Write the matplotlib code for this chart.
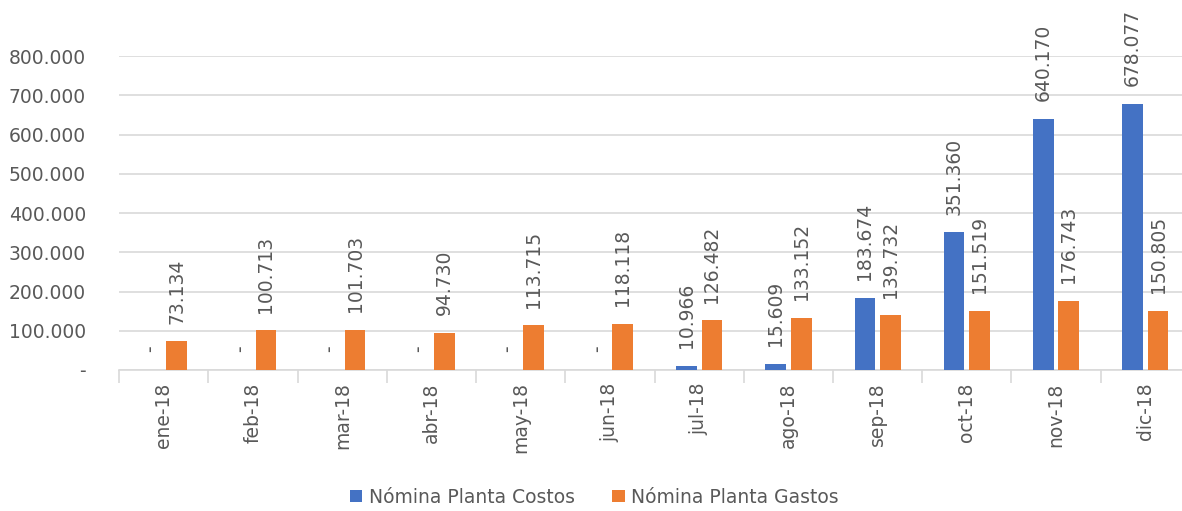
import numpy as np
import matplotlib.pyplot as plt

months = ["ene-18", "feb-18", "mar-18", "abr-18", "may-18", "jun-18",
          "jul-18", "ago-18", "sep-18", "oct-18", "nov-18", "dic-18"]
costos = [0, 0, 0, 0, 0, 0, 10966, 15609, 183674, 351360, 640170, 678077]
gastos = [73134, 100713, 101703, 94730, 113715, 118118,
          126482, 133152, 139732, 151519, 176743, 150805]

blue = "#4472C4"
orange = "#ED7D31"
grey = "#595959"
light = "#D9D9D9"


def fmt(v):
    if v == 0:
        return "-"
    return f"{v:,.0f}".replace(",", ".")


fig = plt.figure(figsize=(11.82, 5.11), dpi=100)
# plot area runs slightly past the right edge, as in the reference
ax = fig.add_axes([0.1009, 0.276, 0.9058, 0.614])

x = np.arange(len(months))
w = 0.232
off = 0.143
ax.bar(x - off, costos, w, color=blue, label="Nómina Planta Costos", zorder=3)
ax.bar(x + off, gastos, w, color=orange, label="Nómina Planta Gastos", zorder=3)

gap = 45000
for xi, c, g in zip(x, costos, gastos):
    ax.text(xi - off, c + gap, fmt(c), rotation=90, ha="center", va="bottom",
            fontsize=13.5, color=grey)
    ax.text(xi + off, g + gap, fmt(g), rotation=90, ha="center", va="bottom",
            fontsize=13.5, color=grey)

ax.set_xlim(-0.5, len(months) - 0.5)
ax.set_ylim(0, 800000)
ax.set_yticks(np.arange(0, 800001, 100000))
ax.set_yticklabels([fmt(v) for v in np.arange(0, 800001, 100000)])
ax.set_xticks(x)
ax.set_xticklabels(months, rotation=90)
ax.set_xticks(np.arange(-0.5, len(months), 1), minor=True)

ax.tick_params(axis="y", length=0, labelsize=13.5, labelcolor=grey, pad=24)
ax.tick_params(axis="x", which="major", length=0, labelsize=13.5, labelcolor=grey, pad=9)
ax.tick_params(axis="x", which="minor", length=9, color=light, width=1.2)

ax.grid(axis="y", color=light, linewidth=1.2, zorder=0)
for s in ["top", "right", "left"]:
    ax.spines[s].set_visible(False)
ax.spines["bottom"].set_color(light)
ax.spines["bottom"].set_linewidth(1.2)

fig.legend(loc="center", bbox_to_anchor=(0.503, 0.027), ncol=2, frameon=False,
           fontsize=13.5, labelcolor=grey, handlelength=0.65, handleheight=0.65,
           handletextpad=0.35, columnspacing=2.0)

fig.savefig("out.png", dpi=100)
